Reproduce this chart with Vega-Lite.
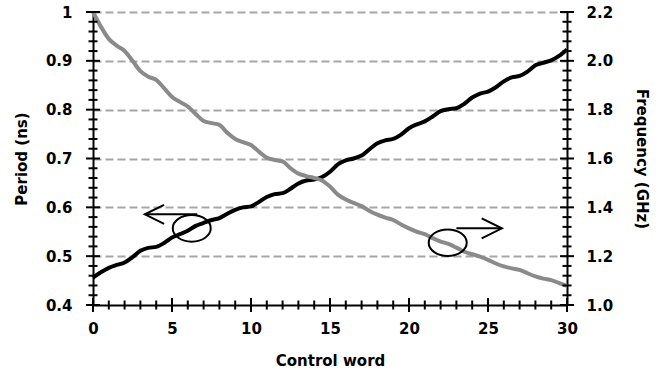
{
  "$schema": "https://vega.github.io/schema/vega-lite/v6.json",
  "width": 474,
  "height": 293,
  "autosize": {"type": "none"},
  "padding": {"left": 93, "top": 12, "right": 94, "bottom": 68},
  "background": "white",
  "config": {
    "view": {"stroke": null},
    "axis": {
      "labelFont": "DejaVu Sans", "labelFontWeight": "bold", "labelFontSize": 15, "labelColor": "black",
      "titleFont": "DejaVu Sans", "titleFontWeight": "bold", "titleFontSize": 15, "titleColor": "black",
      "domainColor": "black", "domainWidth": 2,
      "labelOverlap": false, "labelFlush": false
    }
  },
  "datasets": {
    "curves": [
      {"cw": 0, "period": 0.456, "freq": 2.2},
      {"cw": 0.5, "period": 0.467, "freq": 2.14},
      {"cw": 1, "period": 0.476, "freq": 2.09},
      {"cw": 1.5, "period": 0.482, "freq": 2.062},
      {"cw": 2, "period": 0.487, "freq": 2.04},
      {"cw": 2.5, "period": 0.498, "freq": 2.0},
      {"cw": 3, "period": 0.511, "freq": 1.958},
      {"cw": 3.5, "period": 0.517, "freq": 1.935},
      {"cw": 4, "period": 0.519, "freq": 1.922},
      {"cw": 4.5, "period": 0.527, "freq": 1.888},
      {"cw": 5, "period": 0.538, "freq": 1.852},
      {"cw": 5.5, "period": 0.545, "freq": 1.832},
      {"cw": 6, "period": 0.552, "freq": 1.813},
      {"cw": 6.5, "period": 0.562, "freq": 1.782},
      {"cw": 7, "period": 0.568, "freq": 1.754},
      {"cw": 7.5, "period": 0.574, "freq": 1.745},
      {"cw": 8, "period": 0.578, "freq": 1.738},
      {"cw": 8.5, "period": 0.587, "freq": 1.705},
      {"cw": 9, "period": 0.595, "freq": 1.68},
      {"cw": 9.5, "period": 0.6, "freq": 1.667},
      {"cw": 10, "period": 0.602, "freq": 1.655},
      {"cw": 10.5, "period": 0.611, "freq": 1.628},
      {"cw": 11, "period": 0.621, "freq": 1.603},
      {"cw": 11.5, "period": 0.627, "freq": 1.594},
      {"cw": 12, "period": 0.629, "freq": 1.588},
      {"cw": 12.5, "period": 0.638, "freq": 1.56},
      {"cw": 13, "period": 0.649, "freq": 1.538},
      {"cw": 13.5, "period": 0.655, "freq": 1.528},
      {"cw": 14, "period": 0.657, "freq": 1.52},
      {"cw": 14.5, "period": 0.662, "freq": 1.51},
      {"cw": 15, "period": 0.673, "freq": 1.485},
      {"cw": 15.5, "period": 0.688, "freq": 1.452},
      {"cw": 16, "period": 0.696, "freq": 1.432},
      {"cw": 16.5, "period": 0.7, "freq": 1.418},
      {"cw": 17, "period": 0.706, "freq": 1.405},
      {"cw": 17.5, "period": 0.719, "freq": 1.385},
      {"cw": 18, "period": 0.731, "freq": 1.37},
      {"cw": 18.5, "period": 0.737, "freq": 1.358},
      {"cw": 19, "period": 0.74, "freq": 1.348},
      {"cw": 19.5, "period": 0.749, "freq": 1.33},
      {"cw": 20, "period": 0.762, "freq": 1.314},
      {"cw": 20.5, "period": 0.77, "freq": 1.3},
      {"cw": 21, "period": 0.776, "freq": 1.29},
      {"cw": 21.5, "period": 0.786, "freq": 1.274},
      {"cw": 22, "period": 0.797, "freq": 1.26},
      {"cw": 22.5, "period": 0.801, "freq": 1.25},
      {"cw": 23, "period": 0.803, "freq": 1.235},
      {"cw": 23.5, "period": 0.812, "freq": 1.218},
      {"cw": 24, "period": 0.825, "freq": 1.208},
      {"cw": 24.5, "period": 0.833, "freq": 1.198},
      {"cw": 25, "period": 0.837, "freq": 1.185},
      {"cw": 25.5, "period": 0.846, "freq": 1.17},
      {"cw": 26, "period": 0.858, "freq": 1.158},
      {"cw": 26.5, "period": 0.866, "freq": 1.15},
      {"cw": 27, "period": 0.869, "freq": 1.144},
      {"cw": 27.5, "period": 0.878, "freq": 1.13},
      {"cw": 28, "period": 0.891, "freq": 1.117},
      {"cw": 28.5, "period": 0.896, "freq": 1.108},
      {"cw": 29, "period": 0.901, "freq": 1.102},
      {"cw": 29.5, "period": 0.91, "freq": 1.09},
      {"cw": 30, "period": 0.923, "freq": 1.078}
    ],
    "yticks": [
      {"v": 0.4, "kind": "major"}, {"v": 0.42, "kind": "minor"}, {"v": 0.44, "kind": "minor"}, {"v": 0.46, "kind": "minor"}, {"v": 0.48, "kind": "minor"},
      {"v": 0.5, "kind": "major"}, {"v": 0.52, "kind": "minor"}, {"v": 0.54, "kind": "minor"}, {"v": 0.56, "kind": "minor"}, {"v": 0.58, "kind": "minor"},
      {"v": 0.6, "kind": "major"}, {"v": 0.62, "kind": "minor"}, {"v": 0.64, "kind": "minor"}, {"v": 0.66, "kind": "minor"}, {"v": 0.68, "kind": "minor"},
      {"v": 0.7, "kind": "major"}, {"v": 0.72, "kind": "minor"}, {"v": 0.74, "kind": "minor"}, {"v": 0.76, "kind": "minor"}, {"v": 0.78, "kind": "minor"},
      {"v": 0.8, "kind": "major"}, {"v": 0.82, "kind": "minor"}, {"v": 0.84, "kind": "minor"}, {"v": 0.86, "kind": "minor"}, {"v": 0.88, "kind": "minor"},
      {"v": 0.9, "kind": "major"}, {"v": 0.92, "kind": "minor"}, {"v": 0.94, "kind": "minor"}, {"v": 0.96, "kind": "minor"}, {"v": 0.98, "kind": "minor"},
      {"v": 1.0, "kind": "major"}
    ],
    "xticks": [
      {"cw": 0, "kind": "major"}, {"cw": 1, "kind": "minor"}, {"cw": 2, "kind": "minor"}, {"cw": 3, "kind": "minor"}, {"cw": 4, "kind": "minor"},
      {"cw": 5, "kind": "major"}, {"cw": 6, "kind": "minor"}, {"cw": 7, "kind": "minor"}, {"cw": 8, "kind": "minor"}, {"cw": 9, "kind": "minor"},
      {"cw": 10, "kind": "major"}, {"cw": 11, "kind": "minor"}, {"cw": 12, "kind": "minor"}, {"cw": 13, "kind": "minor"}, {"cw": 14, "kind": "minor"},
      {"cw": 15, "kind": "major"}, {"cw": 16, "kind": "minor"}, {"cw": 17, "kind": "minor"}, {"cw": 18, "kind": "minor"}, {"cw": 19, "kind": "minor"},
      {"cw": 20, "kind": "major"}, {"cw": 21, "kind": "minor"}, {"cw": 22, "kind": "minor"}, {"cw": 23, "kind": "minor"}, {"cw": 24, "kind": "minor"},
      {"cw": 25, "kind": "major"}, {"cw": 26, "kind": "minor"}, {"cw": 27, "kind": "minor"}, {"cw": 28, "kind": "minor"}, {"cw": 29, "kind": "minor"},
      {"cw": 30, "kind": "major"}
    ],
    "ellipses": [
      {"cw": 6.25, "v": 0.557},
      {"cw": 22.45, "v": 0.5276}
    ],
    "arrows": [
      {"part": "a1shaft", "ord": 1, "cw": 3.28, "v": 0.5857},
      {"part": "a1shaft", "ord": 2, "cw": 6.6, "v": 0.5857},
      {"part": "a1head", "ord": 1, "cw": 4.5, "v": 0.605},
      {"part": "a1head", "ord": 2, "cw": 3.28, "v": 0.5857},
      {"part": "a1head", "ord": 3, "cw": 4.5, "v": 0.566},
      {"part": "a2shaft", "ord": 1, "cw": 23.0, "v": 0.557},
      {"part": "a2shaft", "ord": 2, "cw": 25.88, "v": 0.557},
      {"part": "a2head", "ord": 1, "cw": 24.6, "v": 0.5776},
      {"part": "a2head", "ord": 2, "cw": 25.88, "v": 0.557},
      {"part": "a2head", "ord": 3, "cw": 24.6, "v": 0.5366}
    ]
  },
  "resolve": {"scale": {"y": "independent"}, "axis": {"y": "independent"}},
  "layer": [
    {
      "data": {"name": "curves"},
      "mark": {"type": "line", "color": "black", "strokeWidth": 4, "interpolate": "monotone"},
      "encoding": {
        "x": {"field": "cw", "type": "quantitative", "scale": {"domain": [0, 30], "nice": false},
          "axis": {"orient": "bottom", "values": [0, 5, 10, 15, 20, 25, 30], "ticks": false, "tickSize": 0, "labelPadding": 16, "title": "Control word", "titlePadding": 17, "grid": false, "domain": true}},
        "y": {"field": "period", "type": "quantitative", "scale": {"domain": [0.4, 1], "nice": false, "zero": false},
          "axis": {"orient": "left", "values": [0.4, 0.5, 0.6, 0.7, 0.8, 0.9, 1], "ticks": false, "tickSize": 0, "labelPadding": 21,
            "labelExpr": "datum.value == 1 ? '1' : format(datum.value, '.1f')", "title": "Period (ns)", "titlePadding": 16,
            "grid": true, "gridColor": "#a6a6a6", "gridWidth": 2, "gridDash": [8, 4],
            "gridOpacity": {"condition": {"test": "datum.value < 0.45", "value": 0}, "value": 1}}}
      }
    },
    {
      "data": {"name": "curves"},
      "mark": {"type": "line", "color": "#8a8a8a", "strokeWidth": 4, "interpolate": "monotone"},
      "encoding": {
        "x": {"field": "cw", "type": "quantitative"},
        "y": {"field": "freq", "type": "quantitative", "scale": {"domain": [1, 2.2], "nice": false, "zero": false},
          "axis": {"orient": "right", "values": [1, 1.2, 1.4, 1.6, 1.8, 2, 2.2], "ticks": false, "tickSize": 0, "labelPadding": 19, "format": ".1f", "title": "Frequency (GHz)", "titlePadding": 21, "grid": false, "domain": true}}
      }
    },
    {
      "data": {"name": "yticks"},
      "mark": {"type": "point", "shape": "M -1 0 L 1 0", "filled": false, "stroke": "black", "strokeWidth": 2, "opacity": 1},
      "encoding": {
        "x": {"datum": 0, "type": "quantitative"},
        "y": {"field": "v", "type": "quantitative", "scale": {"domain": [0.4, 1], "nice": false, "zero": false}, "axis": null},
        "size": {"field": "kind", "type": "ordinal", "scale": {"domain": ["major", "minor"], "range": [196, 81]}, "legend": null}
      }
    },
    {
      "data": {"name": "yticks"},
      "mark": {"type": "point", "shape": "M -1 0 L 1 0", "filled": false, "stroke": "black", "strokeWidth": 2, "opacity": 1},
      "encoding": {
        "x": {"datum": 30, "type": "quantitative"},
        "y": {"field": "v", "type": "quantitative", "scale": {"domain": [0.4, 1], "nice": false, "zero": false}, "axis": null},
        "size": {"field": "kind", "type": "ordinal", "scale": {"domain": ["major", "minor"], "range": [196, 81]}, "legend": null}
      }
    },
    {
      "data": {"name": "xticks"},
      "mark": {"type": "point", "shape": "M 0 -1 L 0 1", "filled": false, "stroke": "black", "strokeWidth": 2, "opacity": 1},
      "encoding": {
        "x": {"field": "cw", "type": "quantitative"},
        "y": {"datum": 0.4, "type": "quantitative", "scale": {"domain": [0.4, 1], "nice": false, "zero": false}, "axis": null},
        "size": {"field": "kind", "type": "ordinal", "scale": {"domain": ["major", "minor"], "range": [196, 81]}, "legend": null}
      }
    },
    {
      "data": {"name": "ellipses"},
      "mark": {"type": "point", "shape": "M 1 0 C 1 0.3866 0.5523 0.7 0 0.7 C -0.5523 0.7 -1 0.3866 -1 0 C -1 -0.3866 -0.5523 -0.7 0 -0.7 C 0.5523 -0.7 1 -0.3866 1 0 Z", "size": 1444, "filled": false, "stroke": "black", "strokeWidth": 2, "opacity": 1},
      "encoding": {
        "x": {"field": "cw", "type": "quantitative"},
        "y": {"field": "v", "type": "quantitative", "scale": {"domain": [0.4, 1], "nice": false, "zero": false}, "axis": null}
      }
    },
    {
      "data": {"name": "arrows"},
      "mark": {"type": "line", "color": "black", "strokeWidth": 2, "strokeJoin": "miter"},
      "encoding": {
        "x": {"field": "cw", "type": "quantitative"},
        "y": {"field": "v", "type": "quantitative", "scale": {"domain": [0.4, 1], "nice": false, "zero": false}, "axis": null},
        "detail": {"field": "part"},
        "order": {"field": "ord", "type": "quantitative"}
      }
    }
  ]
}
